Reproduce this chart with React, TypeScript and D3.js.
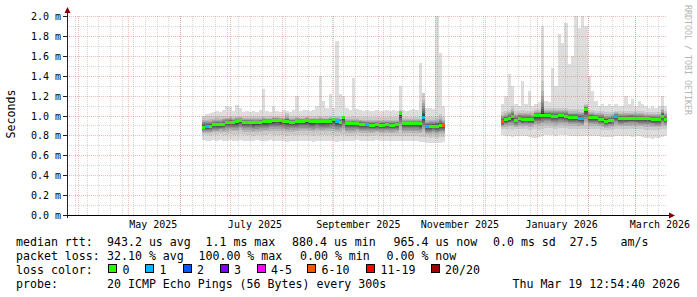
import React from "react";
import * as d3 from "d3";

const DAY = 86400000;
const startTime = Date.UTC(2025, 2, 25, 5, 17);
const endTime = startTime + 360 * DAY;
const seg1Start = Date.UTC(2025, 5, 14, 5, 0);
const seg2Start = Date.UTC(2025, 11, 10, 17, 0);
const stepDays = 2;

// ---- segment 1 (June - November 2025), one sample every 2 days, values in ms ----
const seg1Median = [
  0.882, 0.885, 0.89, 0.905, 0.905, 0.905, 0.91, 0.93, 0.933, 0.933,
  0.935, 0.948, 0.93, 0.928, 0.928, 0.925, 0.925, 0.928, 0.935, 0.935,
  0.94, 0.948, 0.95, 0.948, 0.94, 0.935, 0.93, 0.93, 0.935, 0.94,
  0.94, 0.945, 0.935, 0.935, 0.94, 0.935, 0.935, 0.937, 0.94, 0.955,
  0.935, 0.93, 0.975, 0.915, 0.915, 0.915, 0.915, 0.912, 0.91, 0.905,
  0.9, 0.9, 0.905, 0.9, 0.9, 0.905, 0.9, 0.9, 0.905, 1.02,
  0.915, 0.915, 0.915, 0.915, 0.915, 0.915, 0.98, 0.887, 0.89, 0.893,
  0.893, 0.895, 0.895,
];
const seg1Loss = [
  0, 1, 0, 0, 0, 0, 0, 0, 0, 0,
  0, 0, 0, 0, 0, 0, 0, 0, 0, 0,
  0, 0, 0, 0, 0, 0, 0, 0, 0, 0,
  0, 0, 0, 0, 0, 0, 0, 0, 0, 0,
  1, 0, 0, 0, 0, 0, 0, 0, 0, 1,
  0, 0, 0, 0, 0, 0, 0, 0, 0, 0,
  0, 0, 0, 0, 0, 0, 1, 1, 0, 0,
  0, 0, 6,
];
const seg1Max = [
  1.0, 1.02, 1.03, 1.04, 1.05, 1.04, 1.06, 1.1, 1.09, 1.05,
  1.11, 1.08, 1.04, 1.05, 1.04, 1.05, 1.04, 1.06, 1.27, 1.05,
  1.04, 1.1, 1.05, 1.04, 1.06, 1.05, 1.04, 1.06, 1.2, 1.05,
  1.06, 1.06, 1.05, 1.06, 1.1, 1.4, 1.15, 1.08, 1.22, 1.08,
  1.75, 1.22, 1.2, 1.08, 1.06, 1.38, 1.07, 1.06, 1.05, 1.06,
  1.05, 1.05, 1.06, 1.05, 1.05, 1.06, 1.05, 1.06, 1.05, 1.3,
  1.06, 1.05, 1.06, 1.07, 1.06, 1.53, 1.22, 1.08, 1.08, 1.07,
  2.0, 1.63, 1.1,
];
const seg1Hi = [
  0.99, 0.99, 0.99, 0.99, 1.0, 0.99, 1.0, 1.0, 1.0, 0.99,
  1.0, 1.0, 0.99, 0.99, 0.99, 0.99, 0.99, 0.99, 1.0, 0.99,
  0.99, 1.0, 1.0, 0.99, 0.99, 1.03, 0.99, 0.99, 1.0, 0.99,
  0.99, 1.0, 0.99, 0.99, 0.99, 1.0, 0.99, 0.99, 1.0, 0.99,
  1.0, 1.0, 1.0, 0.98, 0.98, 0.99, 0.98, 0.98, 0.98, 0.98,
  0.98, 0.98, 0.98, 0.98, 0.98, 0.98, 0.98, 0.98, 0.98, 1.06,
  0.98, 0.98, 0.98, 0.98, 0.98, 0.99, 1.23, 0.98, 0.98, 0.98,
  0.99, 1.02, 0.98,
];
const seg1Lo = [
  0.8, 0.8, 0.79, 0.8, 0.8, 0.81, 0.8, 0.8, 0.81, 0.8,
  0.8, 0.81, 0.8, 0.8, 0.8, 0.79, 0.8, 0.8, 0.8, 0.8,
  0.81, 0.8, 0.8, 0.8, 0.8, 0.79, 0.8, 0.8, 0.8, 0.8,
  0.8, 0.8, 0.8, 0.79, 0.8, 0.8, 0.8, 0.8, 0.8, 0.8,
  0.79, 0.8, 0.8, 0.79, 0.79, 0.79, 0.8, 0.79, 0.79, 0.79,
  0.79, 0.79, 0.8, 0.79, 0.79, 0.79, 0.79, 0.79, 0.79, 0.79,
  0.79, 0.79, 0.79, 0.79, 0.79, 0.78, 0.78, 0.78, 0.77, 0.78,
  0.77, 0.78, 0.78,
];
const seg1Min = [
  0.75, 0.74, 0.74, 0.75, 0.74, 0.75, 0.74, 0.74, 0.75, 0.74,
  0.74, 0.75, 0.74, 0.74, 0.74, 0.74, 0.75, 0.74, 0.74, 0.74,
  0.75, 0.74, 0.74, 0.74, 0.74, 0.73, 0.74, 0.74, 0.74, 0.74,
  0.74, 0.74, 0.74, 0.73, 0.74, 0.74, 0.74, 0.74, 0.74, 0.74,
  0.73, 0.74, 0.74, 0.74, 0.74, 0.74, 0.75, 0.74, 0.74, 0.74,
  0.74, 0.74, 0.75, 0.74, 0.74, 0.74, 0.74, 0.74, 0.74, 0.74,
  0.74, 0.74, 0.74, 0.74, 0.74, 0.73, 0.73, 0.72, 0.72, 0.72,
  0.72, 0.72, 0.73,
];

// ---- segment 2 (December 2025 - March 2026) ----
const seg2Median = [
  0.937, 0.955, 0.97, 0.985, 0.948, 0.972, 0.955, 0.96, 0.96, 0.955,
  0.995, 0.995, 1.0, 1.0, 0.998, 0.99, 0.99, 0.995, 0.995, 0.99,
  0.978, 0.978, 0.978, 0.97, 0.968, 1.06, 0.978, 0.978, 0.975, 0.962,
  0.96, 0.94, 0.945, 0.95, 0.99, 0.968, 0.968, 0.97, 0.972, 0.972,
  0.97, 0.968, 0.965, 0.965, 0.965, 0.96, 0.955, 0.955, 0.99, 0.96,
];
const seg2Loss = [
  6, 0, 0, 0, 0, 0, 0, 0, 0, 0,
  0, 0, 0, 0, 0, 0, 0, 0, 0, 0,
  0, 0, 0, 1, 1, 0, 0, 0, 0, 0,
  0, 0, 0, 0, 1, 0, 0, 0, 0, 0,
  0, 0, 0, 0, 0, 0, 0, 0, 0, 0,
];
const seg2Max = [
  1.12, 1.2, 1.42, 1.3, 1.12, 1.1, 1.35, 1.12, 1.25, 1.1,
  1.12, 1.14, 1.9, 1.15, 1.14, 1.48, 1.3, 1.82, 1.73, 1.93,
  1.52, 1.6, 2.0, 1.88, 2.0, 1.9, 1.4, 1.25, 1.15, 1.1,
  1.12, 1.1, 1.12, 1.1, 1.12, 1.1, 1.1, 1.2, 1.12, 1.17,
  1.1, 1.15, 1.12, 1.1, 1.08, 1.1, 1.08, 1.1, 1.2, 1.1,
];
const seg2Hi = [
  1.04, 1.05, 1.06, 1.1, 1.05, 1.05, 1.06, 1.05, 1.05, 1.05,
  1.07, 1.07, 1.35, 1.08, 1.08, 1.08, 1.08, 1.08, 1.08, 1.08,
  1.07, 1.07, 1.07, 1.07, 1.07, 1.12, 1.06, 1.06, 1.05, 1.05,
  1.05, 1.04, 1.04, 1.04, 1.05, 1.05, 1.05, 1.05, 1.05, 1.05,
  1.05, 1.05, 1.05, 1.04, 1.04, 1.04, 1.04, 1.04, 1.1, 1.05,
];
const seg2Lo = [
  0.86, 0.86, 0.86, 0.85, 0.86, 0.86, 0.86, 0.86, 0.85, 0.86,
  0.86, 0.85, 0.86, 0.87, 0.87, 0.87, 0.86, 0.87, 0.87, 0.87,
  0.86, 0.86, 0.86, 0.86, 0.86, 0.86, 0.86, 0.86, 0.86, 0.86,
  0.85, 0.85, 0.85, 0.85, 0.86, 0.86, 0.86, 0.86, 0.86, 0.86,
  0.86, 0.86, 0.86, 0.85, 0.85, 0.85, 0.85, 0.85, 0.86, 0.86,
];
const seg2Min = [
  0.8, 0.79, 0.79, 0.78, 0.79, 0.79, 0.79, 0.79, 0.78, 0.77,
  0.77, 0.78, 0.79, 0.8, 0.8, 0.8, 0.79, 0.8, 0.8, 0.8,
  0.79, 0.79, 0.79, 0.79, 0.79, 0.79, 0.79, 0.79, 0.79, 0.79,
  0.78, 0.78, 0.78, 0.78, 0.79, 0.79, 0.79, 0.79, 0.79, 0.78,
  0.79, 0.79, 0.78, 0.77, 0.77, 0.76, 0.77, 0.77, 0.78, 0.79,
];

const yMajorTicks = [0, 0.2, 0.4, 0.6, 0.8, 1.0, 1.2, 1.4, 1.6, 1.8, 2.0];
const yMinorTicks = [0.1, 0.3, 0.5, 0.7, 0.9, 1.1, 1.3, 1.5, 1.7, 1.9];

const lossLegend = [
  { label: "0", color: "#26ff00", upTo: 0 },
  { label: "1", color: "#00b8ff", upTo: 1 },
  { label: "2", color: "#0059ff", upTo: 2 },
  { label: "3", color: "#7e00ff", upTo: 3 },
  { label: "4-5", color: "#ff00ff", upTo: 5 },
  { label: "6-10", color: "#ff5500", upTo: 10 },
  { label: "11-19", color: "#ff0000", upTo: 19 },
  { label: "20/20", color: "#a00000", upTo: 20 },
];

const legendLine1 = ["median rtt:", "943.2 us avg", "1.1 ms max", "880.4 us min", "965.4 us now", "0.0 ms sd", "27.5", "am/s"];
const legendLine2 = ["packet loss:", "32.10 % avg", "100.00 % max", "0.00 % min", "0.00 % now"];
const probeLabel = "probe:";
const probeText = "20 ICMP Echo Pings (56 Bytes) every 300s";
const stampText = "Thu Mar 19 12:54:40 2026";

type Sample = { t0: number; t1: number; med: number; lo: number; hi: number; mn: number; mx: number; loss: number };

function buildSeg(start: number, med: number[], lo: number[], hi: number[], mn: number[], mx: number[], loss: number[]): Sample[] {
  return med.map((m, k) => ({
    t0: start + k * stepDays * DAY,
    t1: start + (k + 1) * stepDays * DAY,
    med: m, lo: lo[k], hi: hi[k], mn: mn[k], mx: mx[k], loss: loss[k],
  }));
}

// split the body between the outer pings and the median into the 20 sorted pings;
// inner pings cluster near the median
function quantiles(s: Sample): number[] {
  const q = new Array(20);
  q[0] = s.mn;
  q[19] = s.mx;
  for (let i = 1; i <= 9; i++) {
    const f = Math.pow((i - 1) / 9, 0.55);
    q[i] = s.lo + (s.med - s.lo) * f;
    q[19 - i] = s.hi - (s.hi - s.med) * f;
  }
  return q;
}

function lossColor(l: number) {
  for (const e of lossLegend) if (l <= e.upTo) return e.color;
  return lossLegend[lossLegend.length - 1].color;
}

const W = 697, H = 297;
const X0 = 67, X1 = 667, YB = 215, YT = 16;
const MONO = "'DejaVu Sans Mono', monospace";

export default function App() {
  const x = d3.scaleTime().domain([new Date(startTime), new Date(endTime)]).range([X0, X1]);
  const y = d3.scaleLinear().domain([0, 2]).range([YB, YT]);
  const px = (v: number) => Math.round(v) + 0.5;

  const segs = [
    buildSeg(seg1Start, seg1Median, seg1Lo, seg1Hi, seg1Min, seg1Max, seg1Loss),
    buildSeg(seg2Start, seg2Median, seg2Lo, seg2Hi, seg2Min, seg2Max, seg2Loss),
  ];

  const bandPaths: { d: string; fill: string }[] = [];
  segs.forEach((seg) => {
    const qs = seg.map(quantiles);
    for (let b = 0; b < 10; b++) {
      const pts = seg.map((s, k) => ({ t: s.t0, a: qs[k][b], c: qs[k][19 - b] }));
      const last = seg[seg.length - 1];
      pts.push({ t: last.t1, a: qs[seg.length - 1][b], c: qs[seg.length - 1][19 - b] });
      const area = d3
        .area<{ t: number; a: number; c: number }>()
        .x((d) => x(new Date(d.t)))
        .y0((d) => y(d.a))
        .y1((d) => y(d.c))
        .curve(d3.curveStepAfter);
      const g = Math.round(221 - b * 19);
      bandPaths.push({ d: area(pts) || "", fill: `rgb(${g},${g},${g})` });
    }
  });

  const weeks = d3.utcSunday.range(new Date(startTime), new Date(endTime));
  const months = d3.utcMonth.range(new Date(startTime), new Date(endTime));
  const labelMonths = d3.utcMonth.every(2)!.range(new Date(startTime), new Date(endTime));
  const fmtMonth = d3.utcFormat("%B %Y");
  const fmtY = d3.format(".1f");

  const line1X = [16, 107, 205.5, 292, 393.5, 493, 569.5, 620.5];
  const line2X = [16, 107, 198.5, 300, 386.5];
  const boxX = [108, 145, 182.5, 219.5, 256.5, 307, 366, 430.5];

  const minorStroke = "rgba(140,140,140,0.35)";
  const majorStroke = "rgba(222,80,80,0.38)";

  return (
    <svg width={W} height={H} style={{ position: "absolute", left: 0, top: 0, background: "#fff" }} xmlns="http://www.w3.org/2000/svg">
      <rect x={0} y={0} width={W} height={H} fill="#ffffff" />
      <defs>
        <clipPath id="plot">
          <rect x={X0} y={YT - 1} width={X1 - X0} height={YB - YT + 1} />
        </clipPath>
      </defs>
      <g clipPath="url(#plot)" shapeRendering="crispEdges">
        {bandPaths.map((p, i) => (
          <path key={i} d={p.d} fill={p.fill} />
        ))}
        {segs.flat().map((s, i) => (
          <rect key={i} x={x(new Date(s.t0))} width={x(new Date(s.t1)) - x(new Date(s.t0))} y={y(s.med) - 1.5} height={3} fill={lossColor(s.loss)} />
        ))}
      </g>
      {/* grid */}
      <g shapeRendering="crispEdges" strokeDasharray="1,1">
        {yMinorTicks.map((v) => (
          <line key={"hm" + v} x1={X0} x2={X1} y1={px(y(v))} y2={px(y(v))} stroke={minorStroke} />
        ))}
        {weeks.map((d) => (
          <line key={"vm" + +d} x1={px(x(d))} x2={px(x(d))} y1={YT} y2={YB} stroke={minorStroke} />
        ))}
        {yMajorTicks.filter((v) => v > 0).map((v) => (
          <line key={"hM" + v} x1={X0} x2={X1} y1={px(y(v))} y2={px(y(v))} stroke={majorStroke} />
        ))}
        {months.map((d) => (
          <line key={"vM" + +d} x1={px(x(d))} x2={px(x(d))} y1={YT} y2={YB} stroke={majorStroke} />
        ))}
      </g>
      {/* axes */}
      <g shapeRendering="crispEdges">
        <line x1={X0 + 0.5} x2={X0 + 0.5} y1={11} y2={218} stroke="#222" />
        <line x1={63} x2={671} y1={YB + 0.5} y2={YB + 0.5} stroke="#000" />
        {yMajorTicks.map((v) => (
          <line key={"t" + v} x1={63} x2={67} y1={px(y(v))} y2={px(y(v))} stroke="#222" />
        ))}
      </g>
      <path d={`M${X0 + 0.5},7 L${X0 + 3.5},13 L${X0 - 2.5},13 Z`} fill="#800000" />
      <path d={`M675,${YB + 0.5} L669,${YB - 2.5} L669,${YB + 3.5} Z`} fill="#800000" />
      {/* y labels */}
      <g fontFamily={MONO} fontSize={10} fill="#000">
        {yMajorTicks.map((v) => (
          <text key={"yl" + v} x={61} y={Math.round(y(v)) + 4} textAnchor="end">
            {fmtY(v) + " m"}
          </text>
        ))}
        {labelMonths.map((d) => (
          <text key={"xl" + +d} x={x(new Date(+d + 15 * DAY))} y={227.5} textAnchor="middle">
            {fmtMonth(d)}
          </text>
        ))}
      </g>
      <text x={0} y={0} transform="translate(15,114) rotate(-90)" textAnchor="middle" fontFamily={MONO} fontSize={11.6} fill="#000">
        Seconds
      </text>
      <text x={0} y={0} transform="translate(685,5) rotate(90)" fontFamily={MONO} fontSize={8.3} fill="#b4b4b4">
        RRDTOOL / TOBI OETIKER
      </text>
      {/* legend */}
      <g fontFamily={MONO} fontSize={11.6} fill="#000" style={{ whiteSpace: "pre" }}>
        {legendLine1.map((t, i) => (
          <text key={"l1" + i} x={line1X[i]} y={245.5}>{t}</text>
        ))}
        {legendLine2.map((t, i) => (
          <text key={"l2" + i} x={line2X[i]} y={259.6}>{t}</text>
        ))}
        <text x={16} y={273.7}>loss color:</text>
        {lossLegend.map((e, i) => (
          <g key={"lg" + i}>
            <rect x={boxX[i] + 0.5} y={264.5} width={8} height={8} fill={e.color} stroke="#000" shapeRendering="crispEdges" />
            <text x={boxX[i] + 14.5} y={273.7}>{e.label}</text>
          </g>
        ))}
        <text x={16} y={287.8}>{probeLabel}</text>
        <text x={107} y={287.8}>{probeText}</text>
        <text x={680} y={287.8} textAnchor="end">{stampText}</text>
      </g>
    </svg>
  );
}
